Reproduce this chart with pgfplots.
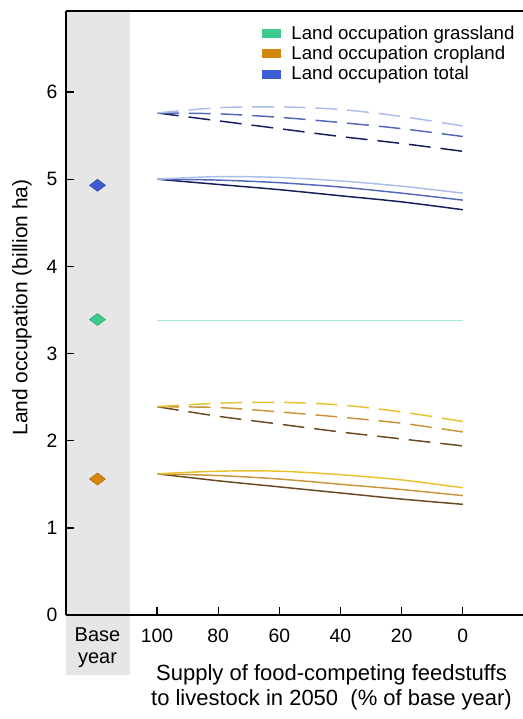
\documentclass[border=0pt]{standalone}
\usepackage{fontspec}
\setmainfont{Liberation Sans}
\usepackage{pgfplots}
\usepackage{pgfplotstable}
\pgfplotsset{compat=1.18}

\definecolor{grassC}{HTML}{3CCB8C}
\definecolor{cropC}{HTML}{D4860F}
\definecolor{totalC}{HTML}{3E5BD1}
\definecolor{grassLine}{HTML}{A6E8D2}
\definecolor{blueL}{HTML}{A9BDEB}
\definecolor{blueM}{HTML}{5268B8}
\definecolor{blueD}{HTML}{161C5A}
\definecolor{cropL}{HTML}{E8C22E}
\definecolor{cropM}{HTML}{C8953A}
\definecolor{cropD}{HTML}{6A4820}
\definecolor{baseGray}{HTML}{E6E6E6}

\newcommand\chartfont{\fontsize{14}{17}\selectfont}

% land occupation, billion ha; s = solid, d = dashed scenarios
\pgfplotstableread{
pct  sl    sm    sd    dl    dm    dd
100  5.00  5.00  5.00  5.76  5.76  5.76
80   5.03  4.99  4.94  5.82  5.75  5.67
60   5.02  4.96  4.88  5.83  5.71  5.58
40   4.98  4.91  4.81  5.80  5.65  5.49
20   4.92  4.84  4.74  5.72  5.58  5.41
0    4.84  4.76  4.65  5.61  5.49  5.32
}\total

\pgfplotstableread{
pct  sl    sm    sd    dl    dm    dd
100  1.62  1.62  1.62  2.39  2.39  2.39
80   1.65  1.60  1.54  2.43  2.38  2.28
60   1.65  1.56  1.47  2.44  2.33  2.19
40   1.61  1.50  1.40  2.41  2.27  2.10
20   1.55  1.44  1.33  2.33  2.20  2.02
0    1.46  1.37  1.27  2.22  2.10  1.94
}\crop

\begin{document}
\begin{tikzpicture}
\useasboundingbox (-49.5pt,-78pt) rectangle (342.75pt,461.25pt);
\begin{axis}[
    at={(0,0)}, anchor=south west,
    scale only axis,
    width=342.75pt, height=453pt,
    x dir=reverse,
    xmin=-19.7, xmax=129.8,
    ymin=0, ymax=6.93,
    xtick={0,20,40,60,80,100},
    ytick={0,1,2,3,4,5,6},
    axis x line*=box, axis y line*=left,
    xtick pos=bottom,
    tick align=inside,
    major tick length=6pt,
    axis line style={line width=1.2pt},
    tick style={line width=1pt, black},
    axis on top,
    clip=false,
    tick label style={font=\fontsize{14.5}{17}\selectfont},
    /pgf/number format/assume math mode=true,
    xticklabel style={yshift=-7pt},
    yticklabel style={xshift=-3pt},
    ylabel={Land occupation (billion ha)},
    ylabel style={font=\fontsize{15.7}{18}\selectfont, at={(axis description cs:-0.0963,0.509)}, anchor=center},
    legend style={at={(axis description cs:0.42,0.985)}, anchor=north west,
        draw=none, fill=none, font=\chartfont, row sep=-0.5pt,
        legend cell align=left},
]
% grey band behind the base-year column
\fill[baseGray] (axis cs:129.8,-0.69) rectangle (axis cs:108.9,6.93);

\addlegendimage{legend image code/.code={\fill[grassC] (0pt,-3pt) rectangle (13.5pt,3pt); \path (19.5pt,0pt);}}
\addlegendentry{Land occupation grassland}
\addlegendimage{legend image code/.code={\fill[cropC] (0pt,-3pt) rectangle (13.5pt,3pt); \path (19.5pt,0pt);}}
\addlegendentry{Land occupation cropland}
\addlegendimage{legend image code/.code={\fill[totalC] (0pt,-3pt) rectangle (13.5pt,3pt); \path (19.5pt,0pt);}}
\addlegendentry{Land occupation total}

% base year
\addplot[only marks, mark=diamond*, mark size=6pt, mark options={rotate=90, draw=totalC!80!black, fill=totalC}, forget plot] coordinates {(119.5,4.93)};
\addplot[only marks, mark=diamond*, mark size=6pt, mark options={rotate=90, draw=grassC!80!black, fill=grassC}, forget plot] coordinates {(119.5,3.39)};
\addplot[only marks, mark=diamond*, mark size=6pt, mark options={rotate=90, draw=cropC!80!black, fill=cropC}, forget plot] coordinates {(119.5,1.56)};

% grassland
\addplot[grassLine, line width=1.3pt, forget plot] coordinates {(100,3.38) (0,3.38)};

% total
\addplot[blueD, line width=1.1pt, smooth, forget plot] table[x=pct, y=sd] {\total};
\addplot[blueM, line width=1.1pt, smooth, forget plot] table[x=pct, y=sm] {\total};
\addplot[blueL, line width=1.1pt, smooth, forget plot] table[x=pct, y=sl] {\total};
\addplot[blueD, line width=1.1pt, smooth, dash pattern=on 16.3pt off 7.5pt, forget plot] table[x=pct, y=dd] {\total};
\addplot[blueM, line width=1.1pt, smooth, dash pattern=on 16.3pt off 7.5pt, forget plot] table[x=pct, y=dm] {\total};
\addplot[blueL, line width=1.1pt, smooth, dash pattern=on 16.3pt off 7.5pt, forget plot] table[x=pct, y=dl] {\total};

% cropland
\addplot[cropD, line width=1.1pt, smooth, forget plot] table[x=pct, y=sd] {\crop};
\addplot[cropM, line width=1.1pt, smooth, forget plot] table[x=pct, y=sm] {\crop};
\addplot[cropL, line width=1.1pt, smooth, forget plot] table[x=pct, y=sl] {\crop};
\addplot[cropD, line width=1.1pt, smooth, dash pattern=on 16.3pt off 7.5pt, forget plot] table[x=pct, y=dd] {\crop};
\addplot[cropM, line width=1.1pt, smooth, dash pattern=on 16.3pt off 7.5pt, forget plot] table[x=pct, y=dm] {\crop};
\addplot[cropL, line width=1.1pt, smooth, dash pattern=on 16.3pt off 7.5pt, forget plot] table[x=pct, y=dl] {\crop};

\node[font=\fontsize{15}{16.5}\selectfont, align=center, anchor=north, inner sep=0pt]
    at (axis cs:119.5,0) [yshift=-9pt] {Base\\year};
\node[font=\fontsize{16.5}{18.4}\selectfont, align=center, anchor=north, inner sep=0pt]
    at (axis description cs:0.581,0) [yshift=-37pt]
    {Supply of food-competing feedstuffs\\to livestock in 2050\ \ (\% of base year)};
\end{axis}
\end{tikzpicture}
\end{document}
